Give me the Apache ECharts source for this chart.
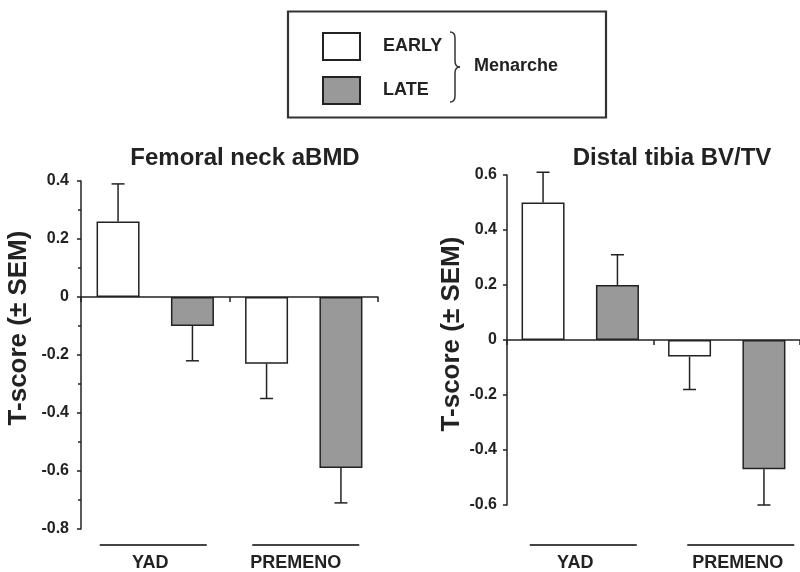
<!DOCTYPE html>
<html>
<head>
<meta charset="utf-8">
<script src="https://cdn.jsdelivr.net/npm/echarts@6/dist/echarts.min.js"></script>
<style>
  html, body { margin: 0; padding: 0; background: #fff; }
  #chart { width: 800px; height: 572px; }
</style>
</head>
<body>
<div id="chart"></div>
<script>
// Groups on the x axis
const groups = ['YAD', 'PREMENO'];

// Femoral neck aBMD T-scores (mean and SEM)
const femEarly = [0.26, -0.23];
const femEarlySem = [0.13, 0.12];
const femLate = [-0.10, -0.59];
const femLateSem = [0.12, 0.12];

// Distal tibia BV/TV T-scores (mean and SEM)
const tibEarly = [0.50, -0.06];
const tibEarlySem = [0.11, 0.12];
const tibLate = [0.20, -0.47];
const tibLateSem = [0.11, 0.13];

// Axis ranges
const femRange = { min: -0.8, max: 0.4, step: 0.2 };
const tibRange = { min: -0.6, max: 0.6, step: 0.2 };

const FONT = '"Liberation Sans", Arial, Helvetica, sans-serif';
const INK = '#222';
const GREY = '#999999';
const BAR_W = 43;
const BAR_GAP = 0.73;
const OFFSET = BAR_W * (1 + BAR_GAP) / 2;

// Horizontal nudges (px) for the group captions and the rules above them
const captionShift = [[-5, -8], [-5, 11]];
const ruleShift = [[-2, 2], [3, 14]];

const chart = echarts.init(document.getElementById('chart'));

function errorData(vals, sems) {
  return vals.map((v, i) => [i, v, sems[i]]);
}

// One-sided error bar pointing away from zero, with a cap
function errorRenderer(side) {
  return function (params, api) {
    const i = api.value(0);
    const v = api.value(1);
    const s = api.value(2);
    const p0 = api.coord([i, v]);
    const p1 = api.coord([i, v >= 0 ? v + s : v - s]);
    const x = p0[0] + side * OFFSET;
    const st = { stroke: INK, lineWidth: 1.5 };
    return {
      type: 'group',
      children: [
        { type: 'line', shape: { x1: x, y1: p0[1], x2: x, y2: p1[1] }, style: st },
        { type: 'line', shape: { x1: x - 6.5, y1: p1[1], x2: x + 6.5, y2: p1[1] }, style: st }
      ]
    };
  };
}

function valueAxis(grid, range, name, gap, labelMargin, namePad, minor) {
  return {
    type: 'value', gridIndex: grid,
    min: range.min, max: range.max, interval: range.step,
    name: name, nameLocation: 'middle', nameRotate: 90, nameGap: gap,
    nameTextStyle: { fontFamily: FONT, fontWeight: 'bold', fontSize: 26, color: INK, padding: namePad },
    axisLine: { show: true, lineStyle: { color: INK, width: 1.5 } },
    axisTick: { show: true, length: 4, lineStyle: { color: INK, width: 1.5 } },
    minorTick: { show: minor, splitNumber: 2, length: 3, lineStyle: { color: INK, width: 1.5 } },
    axisLabel: { margin: labelMargin, fontFamily: FONT, fontWeight: 'bold', fontSize: 16, color: INK },
    splitLine: { show: false }
  };
}

function zeroAxis(grid) {
  return {
    type: 'category', gridIndex: grid, data: groups,
    axisLine: { onZero: true, lineStyle: { color: INK, width: 1.5 } },
    axisTick: { show: true, length: 5, lineStyle: { color: INK, width: 1.5 } },
    axisLabel: { show: false }
  };
}

// Caption axis at the foot of each panel; each caption may be nudged sideways
function groupAxis(grid, margin) {
  const rich = {};
  groups.forEach((g, i) => {
    const d = captionShift[grid][i];
    rich['c' + i] = {
      fontFamily: FONT, fontWeight: 'bold', fontSize: 18, color: INK,
      padding: d >= 0 ? [0, 0, 0, 2 * d] : [0, -2 * d, 0, 0]
    };
  });
  return {
    type: 'category', gridIndex: grid, data: groups, position: 'bottom',
    axisLine: { show: false, onZero: false },
    axisTick: { show: false },
    axisLabel: {
      margin: margin,
      formatter: (v, i) => '{c' + i + '|' + v + '}',
      rich: rich
    }
  };
}

function bar(name, data, xi, yi, color) {
  return {
    name: name, type: 'bar', data: data, xAxisIndex: xi, yAxisIndex: yi,
    barWidth: BAR_W, barGap: (BAR_GAP * 100) + '%',
    itemStyle: { color: color, borderColor: INK, borderWidth: 1.5 },
    emphasis: { disabled: true }
  };
}

function errSeries(vals, sems, xi, yi, side) {
  return {
    type: 'custom', name: 'err', data: errorData(vals, sems),
    xAxisIndex: xi, yAxisIndex: yi, z: 3,
    renderItem: errorRenderer(side), silent: true
  };
}

const titleStyle = { fontFamily: FONT, fontWeight: 'bold', fontSize: 24, color: INK };

chart.setOption({
  animation: false,
  backgroundColor: '#fff',
  title: [
    { text: 'Femoral neck aBMD', left: 240, top: 141, textAlign: 'center', textStyle: titleStyle },
    { text: 'Distal tibia BV/TV', left: 667, top: 141, textAlign: 'center', textStyle: titleStyle }
  ],
  legend: {
    data: ['EARLY', 'LATE'], orient: 'vertical', left: 317, top: 27,
    itemWidth: 37, itemHeight: 27, itemGap: 15, icon: 'rect',
    selectedMode: false,
    textStyle: { fontFamily: FONT, fontWeight: 'bold', fontSize: 18, color: INK, width: 66, align: 'center', padding: [0, 0, 0, 18] }
  },
  grid: [
    { left: 81, top: 181, width: 297, height: 350 },
    { left: 507, top: 175, width: 300, height: 332 }
  ],
  xAxis: [zeroAxis(0), groupAxis(0, 25), zeroAxis(1), groupAxis(1, 49)],
  yAxis: [
    valueAxis(0, femRange, 'T-score (\u00b1 SEM)', 49, 12, [0, 0, 0, 54], true),
    valueAxis(1, tibRange, 'T-score (\u00b1 SEM)', 42, 10, [0, 0, 0, 12], false)
  ],
  series: [
    bar('EARLY', femEarly, 0, 0, '#ffffff'),
    bar('LATE', femLate, 0, 0, GREY),
    errSeries(femEarly, femEarlySem, 0, 0, -1),
    errSeries(femLate, femLateSem, 0, 0, 1),
    bar('EARLY', tibEarly, 2, 1, '#ffffff'),
    bar('LATE', tibLate, 2, 1, GREY),
    errSeries(tibEarly, tibEarlySem, 2, 1, -1),
    errSeries(tibLate, tibLateSem, 2, 1, 1)
  ]
});

// Legend frame, curly brace and group caption; rules above the group labels
const braceStyle = { stroke: '#333', lineWidth: 1.5, fill: 'none' };
const decor = [
  { type: 'rect', shape: { x: 288, y: 11.5, width: 318, height: 106 },
    style: { fill: 'none', stroke: '#333', lineWidth: 2.2 }, silent: true },
  { type: 'bezierCurve', shape: { x1: 450, y1: 32, cpx1: 455, cpy1: 32, x2: 455, y2: 38 }, style: braceStyle, silent: true },
  { type: 'line', shape: { x1: 455, y1: 38, x2: 455, y2: 61 }, style: braceStyle, silent: true },
  { type: 'bezierCurve', shape: { x1: 455, y1: 61, cpx1: 455, cpy1: 67, x2: 460, y2: 67 }, style: braceStyle, silent: true },
  { type: 'bezierCurve', shape: { x1: 460, y1: 67, cpx1: 455, cpy1: 67, x2: 455, y2: 73 }, style: braceStyle, silent: true },
  { type: 'line', shape: { x1: 455, y1: 73, x2: 455, y2: 96 }, style: braceStyle, silent: true },
  { type: 'bezierCurve', shape: { x1: 455, y1: 96, cpx1: 455, cpy1: 102, x2: 450, y2: 102 }, style: braceStyle, silent: true },
  { type: 'text', x: 474, y: 66,
    style: { text: 'Menarche', font: 'bold 18px ' + FONT, fill: INK, verticalAlign: 'middle' }, silent: true }
];
[1, 3].forEach((xi, panel) => {
  groups.forEach((g, i) => {
    const cx = chart.convertToPixel({ xAxisIndex: xi }, g) + ruleShift[panel][i];
    decor.push({ type: 'line', shape: { x1: cx - 53.5, y1: 545, x2: cx + 53.5, y2: 545 },
      style: { stroke: '#444', lineWidth: 2 }, silent: true });
  });
});
chart.setOption({ graphic: decor });
</script>
</body>
</html>
